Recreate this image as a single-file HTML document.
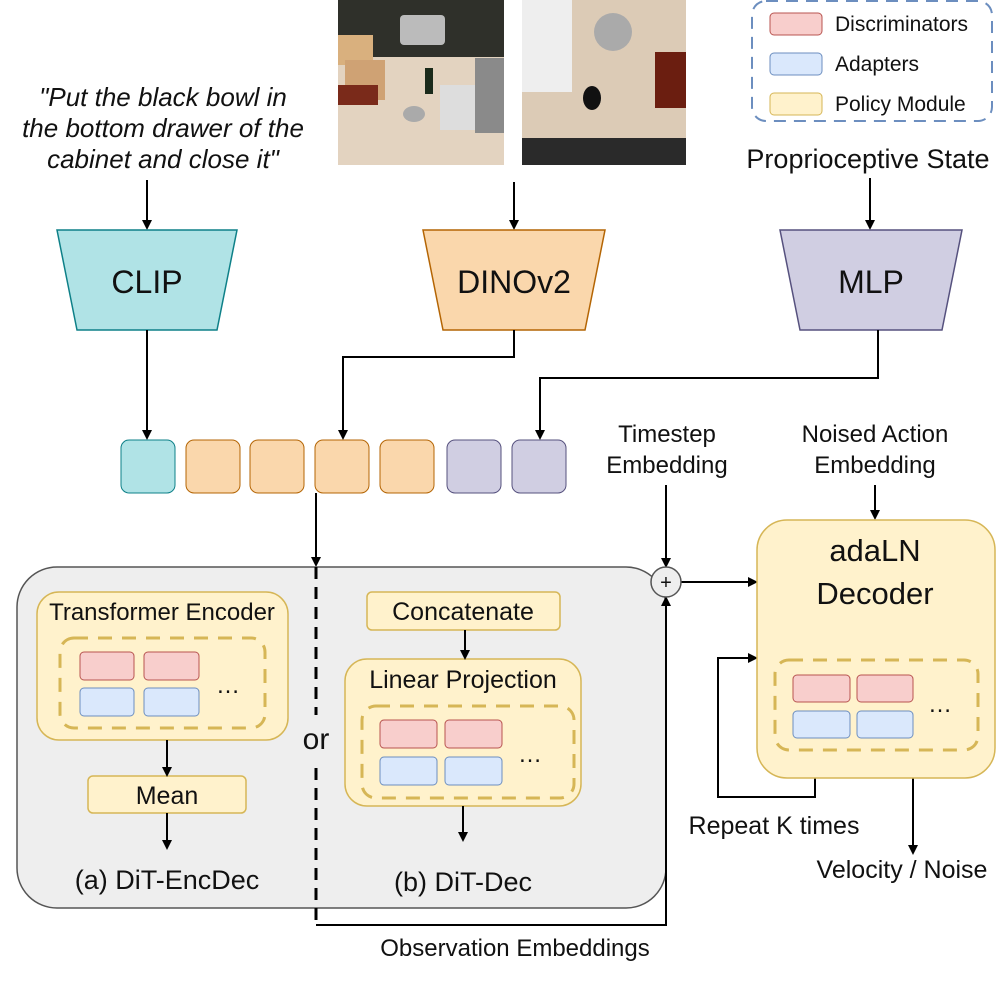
<!DOCTYPE html>
<html><head><meta charset="utf-8"><style>
html,body{margin:0;padding:0;background:#fff}
svg text{font-family:"Liberation Sans",Arial,sans-serif;fill:#111}
</style></head><body>
<svg width="997" height="978" viewBox="0 0 997 978" xmlns="http://www.w3.org/2000/svg">
<defs>
<marker id="a" markerWidth="10" markerHeight="10" refX="8" refY="5" orient="auto" markerUnits="userSpaceOnUse"><path d="M0,0 L10,5 L0,10 Z" fill="#000"/></marker>
</defs>
<g>
<rect x="338" y="0" width="166" height="165" fill="#e3d3c0"/>
<rect x="338" y="0" width="166" height="57" fill="#2f302a"/>
<rect x="400" y="15" width="45" height="30" fill="#bbb" rx="4"/>
<rect x="338" y="35" width="35" height="30" fill="#d9b07e"/>
<rect x="345" y="60" width="40" height="40" fill="#cfa274"/>
<rect x="338" y="85" width="40" height="20" fill="#7a2a1a"/>
<rect x="425" y="68" width="8" height="26" fill="#1a2a1a"/>
<ellipse cx="414" cy="114" rx="11" ry="8" fill="#aaa"/>
<rect x="440" y="85" width="40" height="45" fill="#ddd"/>
<rect x="475" y="58" width="29" height="75" fill="#8a8a8a"/>
<rect x="522" y="0" width="164" height="165" fill="#dccbb6"/>
<rect x="522" y="0" width="50" height="92" fill="#eee"/>
<circle cx="613" cy="32" r="19" fill="#aaa"/>
<rect x="655" y="52" width="31" height="56" fill="#6b1e10"/>
<ellipse cx="592" cy="98" rx="9" ry="12" fill="#111"/>
<rect x="522" y="138" width="164" height="27" fill="#2a2a2a"/>
</g>
<rect x="752" y="1" width="240" height="120" rx="14" fill="none" stroke="#6c8ebf" stroke-width="2" stroke-dasharray="12,8"/>
<rect x="770" y="13" width="52" height="22" rx="4" fill="#f8cecc" stroke="#b85450"/>
<rect x="770" y="53" width="52" height="22" rx="4" fill="#dae8fc" stroke="#6c8ebf"/>
<rect x="770" y="93" width="52" height="22" rx="4" fill="#fff2cc" stroke="#d6b656"/>
<text x="835" y="31" font-size="21">Discriminators</text>
<text x="835" y="71" font-size="21">Adapters</text>
<text x="835" y="111" font-size="21">Policy Module</text>
<g font-size="26" text-anchor="middle" font-style="italic">
<text x="163" y="106">"Put the black bowl in</text>
<text x="163" y="137">the bottom drawer of the</text>
<text x="163" y="168">cabinet and close it"</text>
</g>
<text x="868" y="168" font-size="27" text-anchor="middle">Proprioceptive State</text>
<g stroke="#000" stroke-width="2" fill="none" marker-end="url(#a)">
<line x1="147" y1="180" x2="147" y2="228"/>
<line x1="514" y1="182" x2="514" y2="228"/>
<line x1="870" y1="178" x2="870" y2="228"/>
</g>
<polygon points="57,230 237,230 217,330 77,330" fill="#b0e3e6" stroke="#0e8088" stroke-width="1.5"/>
<polygon points="423,230 605,230 585,330 443,330" fill="#fad7ac" stroke="#b46504" stroke-width="1.5"/>
<polygon points="780,230 962,230 942,330 800,330" fill="#d0cee2" stroke="#56517e" stroke-width="1.5"/>
<text x="147" y="293" font-size="32" text-anchor="middle">CLIP</text>
<text x="514" y="293" font-size="32" text-anchor="middle">DINOv2</text>
<text x="871" y="293" font-size="32" text-anchor="middle">MLP</text>
<g stroke="#000" stroke-width="2" fill="none" marker-end="url(#a)">
<line x1="147" y1="330" x2="147" y2="438"/>
<polyline points="514,330 514,357 343,357 343,438"/>
<polyline points="878,330 878,378 540,378 540,438"/>
<line x1="316" y1="493" x2="316" y2="565"/>
</g>
<rect x="121" y="440" width="54" height="53" rx="8" fill="#b0e3e6" stroke="#0e8088"/>
<rect x="186" y="440" width="54" height="53" rx="8" fill="#fad7ac" stroke="#b46504"/>
<rect x="250" y="440" width="54" height="53" rx="8" fill="#fad7ac" stroke="#b46504"/>
<rect x="315" y="440" width="54" height="53" rx="8" fill="#fad7ac" stroke="#b46504"/>
<rect x="380" y="440" width="54" height="53" rx="8" fill="#fad7ac" stroke="#b46504"/>
<rect x="447" y="440" width="54" height="53" rx="8" fill="#d0cee2" stroke="#56517e"/>
<rect x="512" y="440" width="54" height="53" rx="8" fill="#d0cee2" stroke="#56517e"/>
<rect x="17" y="567" width="649" height="341" rx="40" fill="#eeeeee" stroke="#555" stroke-width="1.5"/>
<line x1="316" y1="567" x2="316" y2="715" stroke="#000" stroke-width="3" stroke-dasharray="12,8"/>
<line x1="316" y1="768" x2="316" y2="925" stroke="#000" stroke-width="3" stroke-dasharray="12,8"/>
<text x="316" y="749" font-size="30" text-anchor="middle">or</text>
<rect x="37" y="592" width="251" height="148" rx="22" fill="#fff2cc" stroke="#d6b656" stroke-width="1.5"/>
<text x="162" y="620" font-size="24" text-anchor="middle">Transformer Encoder</text>
<rect x="60" y="638" width="205" height="90" rx="14" fill="none" stroke="#d6b656" stroke-width="3" stroke-dasharray="14,10"/>
<rect x="80" y="652" width="54" height="28" rx="4" fill="#f8cecc" stroke="#b85450"/>
<rect x="144" y="652" width="55" height="28" rx="4" fill="#f8cecc" stroke="#b85450"/>
<rect x="80" y="688" width="54" height="28" rx="4" fill="#dae8fc" stroke="#6c8ebf"/>
<rect x="144" y="688" width="55" height="28" rx="4" fill="#dae8fc" stroke="#6c8ebf"/>
<text x="228" y="693" font-size="24" text-anchor="middle">…</text>
<rect x="88" y="776" width="158" height="37" rx="5" fill="#fff2cc" stroke="#d6b656" stroke-width="1.5"/>
<text x="167" y="804" font-size="25" text-anchor="middle">Mean</text>
<text x="167" y="889" font-size="27" text-anchor="middle">(a) DiT-EncDec</text>
<rect x="367" y="592" width="193" height="38" rx="5" fill="#fff2cc" stroke="#d6b656" stroke-width="1.5"/>
<text x="463" y="620" font-size="25" text-anchor="middle">Concatenate</text>
<rect x="345" y="659" width="236" height="147" rx="22" fill="#fff2cc" stroke="#d6b656" stroke-width="1.5"/>
<text x="463" y="688" font-size="25" text-anchor="middle">Linear Projection</text>
<rect x="362" y="706" width="212" height="92" rx="14" fill="none" stroke="#d6b656" stroke-width="3" stroke-dasharray="14,10"/>
<rect x="380" y="720" width="57" height="28" rx="4" fill="#f8cecc" stroke="#b85450"/>
<rect x="445" y="720" width="57" height="28" rx="4" fill="#f8cecc" stroke="#b85450"/>
<rect x="380" y="757" width="57" height="28" rx="4" fill="#dae8fc" stroke="#6c8ebf"/>
<rect x="445" y="757" width="57" height="28" rx="4" fill="#dae8fc" stroke="#6c8ebf"/>
<text x="530" y="762" font-size="24" text-anchor="middle">…</text>
<text x="463" y="891" font-size="27" text-anchor="middle">(b) DiT-Dec</text>
<g stroke="#000" stroke-width="2" fill="none" marker-end="url(#a)">
<line x1="167" y1="740" x2="167" y2="775"/>
<line x1="167" y1="813" x2="167" y2="848"/>
<line x1="465" y1="630" x2="465" y2="658"/>
<line x1="463" y1="806" x2="463" y2="840"/>
<polyline points="316,925 666,925 666,598"/>
<line x1="666" y1="485" x2="666" y2="566"/>
<line x1="681" y1="582" x2="756" y2="582"/>
<line x1="875" y1="485" x2="875" y2="518"/>
<polyline points="815,778 815,797 718,797 718,658 756,658"/>
<line x1="913" y1="778" x2="913" y2="853"/>
</g>
<text x="515" y="956" font-size="24" text-anchor="middle">Observation Embeddings</text>
<circle cx="666" cy="582" r="15" fill="#eee" stroke="#555" stroke-width="1.5"/>
<text x="666" y="589" font-size="20" text-anchor="middle">+</text>
<text x="667" y="442" font-size="24" text-anchor="middle">Timestep</text>
<text x="667" y="473" font-size="24" text-anchor="middle">Embedding</text>
<text x="875" y="442" font-size="24" text-anchor="middle">Noised Action</text>
<text x="875" y="473" font-size="24" text-anchor="middle">Embedding</text>
<rect x="757" y="520" width="238" height="258" rx="30" fill="#fff2cc" stroke="#d6b656" stroke-width="1.5"/>
<text x="875" y="561" font-size="31" text-anchor="middle">adaLN</text>
<text x="875" y="604" font-size="31" text-anchor="middle">Decoder</text>
<rect x="775" y="660" width="203" height="90" rx="14" fill="none" stroke="#d6b656" stroke-width="3" stroke-dasharray="14,10"/>
<rect x="793" y="675" width="57" height="27" rx="4" fill="#f8cecc" stroke="#b85450"/>
<rect x="857" y="675" width="56" height="27" rx="4" fill="#f8cecc" stroke="#b85450"/>
<rect x="793" y="711" width="57" height="27" rx="4" fill="#dae8fc" stroke="#6c8ebf"/>
<rect x="857" y="711" width="56" height="27" rx="4" fill="#dae8fc" stroke="#6c8ebf"/>
<text x="940" y="712" font-size="24" text-anchor="middle">…</text>
<text x="774" y="834" font-size="25" text-anchor="middle">Repeat K times</text>
<text x="902" y="878" font-size="25" text-anchor="middle">Velocity / Noise</text>
</svg>
</body></html>
